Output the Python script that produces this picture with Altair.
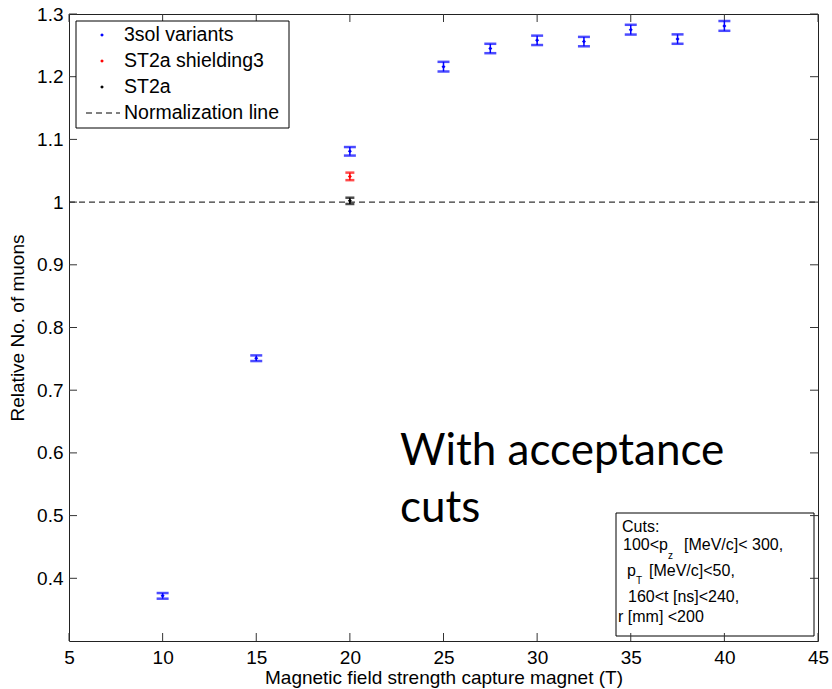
import altair as alt
import pandas as pd

# ---------------- data ----------------
x_3sol = [10, 15, 20, 25, 27.5, 30, 32.5, 35, 37.5, 40]
y_3sol = [0.372, 0.751, 1.081, 1.216, 1.245, 1.258, 1.256, 1.275, 1.260, 1.281]
e_3sol = [0.0045, 0.0045, 0.0068, 0.0077, 0.0075, 0.0075, 0.0075, 0.0078, 0.0075, 0.0078]

x_shield = [20]
y_shield = [1.041]
e_shield = [0.006]

x_st2a = [20]
y_st2a = [1.002]
e_st2a = [0.005]

norm_level = [1.0]

legend_labels = ["3sol variants", "ST2a shielding3", "ST2a", "Normalization line"]
x_ticks = [5, 10, 15, 20, 25, 30, 35, 40, 45]
y_ticks = [0.4, 0.5, 0.6, 0.7, 0.8, 0.9, 1.0, 1.1, 1.2, 1.3]

annotation_lines = ["With acceptance", "cuts"]

# ---------------- layout ----------------
W, H = 749, 627
PL, PT = 69, 14
FONT = "Liberation Sans"

xs = alt.Scale(domain=[5, 45], nice=False, zero=False)
ys = alt.Scale(domain=[0.3, 1.3], nice=False, zero=False)

xaxis = alt.Axis(values=x_ticks, title="Magnetic field strength capture magnet (T)",
                 grid=False, domain=False, ticks=False, labelPadding=7, titlePadding=1,
                 labelFontSize=19, titleFontSize=19, labelFont=FONT, titleFont=FONT,
                 labelColor="black", titleColor="black", titleFontWeight="normal",
                 format="~g", labelFlush=False)
yaxis = alt.Axis(values=y_ticks, title="Relative No. of muons",
                 grid=False, domain=False, ticks=False, labelPadding=6, titlePadding=9,
                 labelFontSize=19, titleFontSize=19, labelFont=FONT, titleFont=FONT,
                 labelColor="black", titleColor="black", titleFontWeight="normal",
                 format="~g", labelFlush=False)


def X(field):
    return alt.X(field, type="quantitative", scale=xs, axis=xaxis)


def Y(field):
    return alt.Y(field, type="quantitative", scale=ys, axis=yaxis)


one = pd.DataFrame({"k": [0]})

layers = []

# normalization line
norm_df = pd.DataFrame({"y": norm_level})
layers.append(alt.Chart(norm_df).mark_rule(color="black", strokeWidth=1, strokeDash=[6, 4]).encode(
    y=Y("y"), x=alt.value(0), x2=alt.value(W)))

# "With acceptance cuts" annotation
for i, line in enumerate(annotation_lines):
    layers.append(alt.Chart(pd.DataFrame({"t": [line]})).mark_text(
        font="Lato", fontSize=44, align="left", baseline="alphabetic", color="black").encode(
        text="t:N", x=alt.value(400 - PL), y=alt.value(465 - PT + 57 * i)))

# cuts box
layers.append(alt.Chart(one).mark_rect(fill="white", stroke="black", strokeWidth=1).encode(
    x=alt.value(547), x2=alt.value(745), y=alt.value(499), y2=alt.value(622)))

cuts_parts = [
    ("Cuts:", 622, 532, 16),
    ("100<p", 623, 550, 16),
    ("z", 668, 559, 10),
    ("[MeV/c]< 300,", 684, 550, 16),
    ("p", 627, 576, 16),
    ("T", 636, 584, 10),
    ("[MeV/c]<50,", 649, 576, 16),
    ("160<t [ns]<240,", 628, 602, 16),
    ("r [mm] <200", 618, 622, 16),
]
for txt, ax, ay, fs in cuts_parts:
    layers.append(alt.Chart(pd.DataFrame({"t": [txt]})).mark_text(
        font=FONT, fontSize=fs, align="left", baseline="alphabetic", color="black").encode(
        text="t:N", x=alt.value(ax - PL), y=alt.value(ay - PT)))

# inward ticks
xt = pd.DataFrame({"v": x_ticks})
yt = pd.DataFrame({"v": y_ticks})
tick_style = dict(color="#333333", strokeWidth=1)
layers.append(alt.Chart(xt).mark_rule(**tick_style).encode(x=X("v"), y=alt.value(H), y2=alt.value(H - 8)))
layers.append(alt.Chart(xt).mark_rule(**tick_style).encode(x=X("v"), y=alt.value(0), y2=alt.value(8)))
layers.append(alt.Chart(yt).mark_rule(**tick_style).encode(y=Y("v"), x=alt.value(0), x2=alt.value(8)))
layers.append(alt.Chart(yt).mark_rule(**tick_style).encode(y=Y("v"), x=alt.value(W), x2=alt.value(W - 8)))

# data series with error bars
series = [
    (x_3sol, y_3sol, e_3sol, "#0000ff", 12),
    (x_shield, y_shield, e_shield, "#ff0000", 9),
    (x_st2a, y_st2a, e_st2a, "#000000", 9),
]
for xv, yv, ev, col, cap in series:
    df = pd.DataFrame({"x": xv, "y": yv, "e": ev})
    df["lo"] = df["y"] - df["e"]
    df["hi"] = df["y"] + df["e"]
    base = alt.Chart(df)
    layers.append(base.mark_rule(color=col, strokeWidth=1.5).encode(x=X("x"), y=Y("lo"), y2="hi:Q"))
    layers.append(base.mark_tick(color=col, orient="horizontal", size=cap, thickness=2.5).encode(x=X("x"), y=Y("lo")))
    layers.append(base.mark_tick(color=col, orient="horizontal", size=cap, thickness=2.5).encode(x=X("x"), y=Y("hi")))
    layers.append(base.mark_point(color=col, filled=True, shape="diamond", size=16, opacity=1).encode(x=X("x"), y=Y("y")))

# legend box
layers.append(alt.Chart(one).mark_rect(fill="white", stroke="black", strokeWidth=1).encode(
    x=alt.value(7), x2=alt.value(220), y=alt.value(7), y2=alt.value(114)))
legend_colors = ["#0000ff", "#ff0000", "#000000"]
for i, lab in enumerate(legend_labels):
    cy = 21 + 26 * i
    ldf = pd.DataFrame({"t": [lab]})
    if i < 3:
        layers.append(alt.Chart(ldf).mark_point(color=legend_colors[i], filled=True, shape="diamond",
                                                size=14, opacity=1).encode(
            x=alt.value(33), y=alt.value(cy)))
    else:
        layers.append(alt.Chart(ldf).mark_rule(color="black", strokeWidth=1, strokeDash=[6, 4]).encode(
            x=alt.value(17), x2=alt.value(51), y=alt.value(cy)))
    layers.append(alt.Chart(ldf).mark_text(font=FONT, fontSize=19.5, align="left", baseline="middle",
                                           color="black").encode(
        text="t:N", x=alt.value(55), y=alt.value(cy)))

chart = alt.layer(*layers).properties(
    width=W, height=H,
    autosize=alt.AutoSizeParams(type="none"),
    padding={"left": PL, "top": PT, "right": 832 - PL - W, "bottom": 689 - PT - H},
    background="white",
).configure_view(stroke="#222222", strokeWidth=1)

chart.save("out.html", embed_options={"renderer": "svg", "actions": False})
